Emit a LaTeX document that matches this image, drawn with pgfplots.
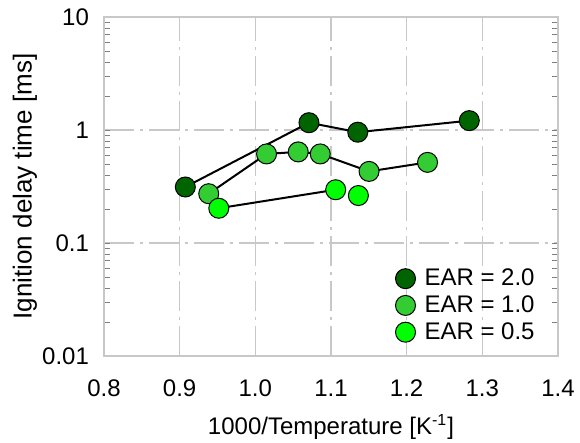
\documentclass[border=0pt]{standalone}
\usepackage{pgfplots}
\pgfplotsset{compat=1.18}
\usepackage{fontspec}
\setmainfont{Liberation Sans}
\definecolor{cdark}{HTML}{006400}
\definecolor{cmid}{HTML}{33CC33}
\definecolor{cbright}{HTML}{00FF00}
\definecolor{gridgray}{HTML}{C8C8C8}
\begin{document}
\begin{tikzpicture}
\useasboundingbox (-52pt,-43.5pt) rectangle (238pt,178pt);
\begin{axis}[
  scale only axis,
  width=227pt, height=169.5pt,
  at={(0,0)}, anchor=south west,
  font=\fontsize{12}{14}\selectfont,
  /pgf/number format/assume math mode=true,
  xmin=0.8, xmax=1.4,
  ymode=log, ymin=0.01, ymax=10,
  xtick={0.8,0.9,1.0,1.1,1.2,1.3,1.4},
  xticklabels={0.8,0.9,1.0,1.1,1.2,1.3,1.4},
  ytick={0.01,0.1,1,10},
  yticklabels={0.01,0.1,1,10},
  minor ytick={},
  major tick length=0pt,
  axis line style={gridgray, line width=0.75pt},
  grid=major,
  major grid style={gridgray, line width=0.75pt, dash pattern=on 15pt off 3pt on 1.5pt off 3pt},
  xticklabel style={yshift=-8.5pt},
  yticklabel style={xshift=-4pt},
  xlabel={1000/Temperature [K\textsuperscript{-1}]},
  ylabel={Ignition delay time [ms]},
  xlabel style={at={(axis description cs:0.5,-0.21)}, anchor=center},
  ylabel style={at={(axis description cs:-0.174,0.5)}, anchor=center,
    font=\fontsize{13}{15}\selectfont},
  legend image code/.code={\draw[#1, only marks] plot coordinates {(0pt,0pt)};},
  legend style={draw=none, fill=none, at={(0.628,0.282)}, anchor=north west,
    row sep=-0.5pt, font=\fontsize{12}{14}\selectfont,
    nodes={inner xsep=4.5pt}},
  legend cell align=left,
]
\addplot[black, line width=1pt, mark=*, mark size=5pt,
  mark options={fill=cdark, draw=black, line width=0.5pt}]
  coordinates {(0.9075,0.313) (1.0709,1.16) (1.1354,0.956) (1.2828,1.21)};
\addlegendentry{EAR = 2.0}
\addplot[black, line width=1pt, mark=*, mark size=5pt,
  mark options={fill=cmid, draw=black, line width=0.5pt}]
  coordinates {(0.9384,0.273) (1.0148,0.614) (1.0567,0.640) (1.0858,0.614) (1.1503,0.430) (1.2276,0.517)};
\addlegendentry{EAR = 1.0}
\addplot[black, line width=1pt, mark=*, mark size=5pt,
  mark options={fill=cbright, draw=black, line width=0.5pt}]
  coordinates {(0.9517,0.203) (1.1062,0.296)};
\addlegendentry{EAR = 0.5}
\addplot[only marks, mark=*, mark size=5pt,
  mark options={fill=cbright, draw=black, line width=0.5pt}, forget plot]
  coordinates {(1.1362,0.263)};
\end{axis}
\end{tikzpicture}
\end{document}
